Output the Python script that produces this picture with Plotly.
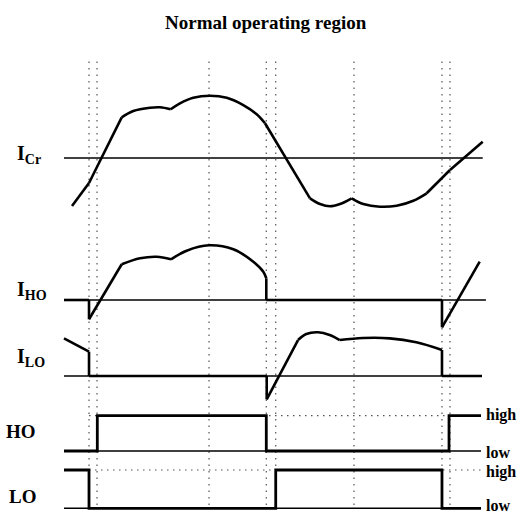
import plotly.graph_objects as go

# ---- time base (normalised, 0..100 across the drawn window) ----
T_MARKS = [5.97, 7.88, 34.61, 48.28, 50.53, 69.21, 90.21, 92.12]

# ---- resonant current I_Cr (normalised units, peak ~ 1) ----
I_CR_T = [1.91, 5.97, 13.77, 16.54, 20.53, 22.91, 25.47, 27.68, 30.86, 34.84,
          38.83, 42.79, 45.99, 47.97, 58.71, 61.10, 63.48, 65.87, 68.66, 71.43,
          75.42, 79.40, 83.37, 86.56, 92.12, 99.93]
I_CR_V = [-0.762, -0.397, 0.646, 0.746, 0.798, 0.805, 0.773, 0.868, 0.957, 0.989,
          0.957, 0.841, 0.694, 0.551, -0.640, -0.730, -0.767, -0.730, -0.640, -0.730,
          -0.773, -0.757, -0.678, -0.560, -0.190, 0.259]
I_CR_CORNERS = [1, 2, 6, 13, 14, 18, 23, 24]

# ---- high-side switch current I_HO ----
I_HO_T = [0, 5.97, 5.97, 13.77, 18.14, 22.12, 25.54, 29.28, 34.61, 40.41,
          45.18, 47.57, 48.28, 48.28, 90.21, 90.21, 99.21]
I_HO_V = [0, 0, -0.306, 0.567, 0.662, 0.687, 0.646, 0.783, 0.868, 0.805,
          0.608, 0.449, 0.344, 0, 0, -0.433, 0.608]
I_HO_CORNERS = [1, 2, 3, 6, 12, 13, 14, 15]

# ---- low-side switch current I_LO ----
I_LO_T = [0, 5.97, 5.97, 48.38, 48.38, 55.85, 57.83, 60.62, 63.41, 65.80,
          71.36, 77.73, 84.08, 90.21, 90.21, 99.76]
I_LO_V = [0.598, 0.386, 0, 0, -0.370, 0.571, 0.667, 0.694, 0.651, 0.571,
          0.603, 0.598, 0.535, 0.413, 0, 0]
I_LO_CORNERS = [1, 2, 3, 4, 5, 9, 13, 14]

# ---- gate signals (0 = low, 1 = high) ----
HO_T = [0, 7.95, 7.95, 48.28, 48.28, 91.89, 91.89, 99.52]
HO_V = [0, 0, 1, 1, 0, 0, 1, 1]
LO_T = [0, 5.97, 5.97, 50.53, 50.53, 90.21, 90.21, 99.52]
LO_V = [1, 1, 0, 0, 1, 1, 0, 0]

ROW_LABELS = ["I<sub>Cr</sub>", "I<sub>HO</sub>", "I<sub>LO</sub>", "HO", "LO"]
LEVEL_LABELS = ["high", "low"]
TITLE = "Normal operating region"

# ---- layout geometry ----
W, H = 526, 515
X0_PX, PX_PER_T = 64, 4.19
# (baseline pixel row, pixels per unit) for each row
ROWS = {
    "y": (158, 63.0),
    "y2": (300, 63.0),
    "y3": (376, 63.0),
    "y4": (451, 35.3),
    "y5": (508.3, 38.3),
}
BASE_END = {"y": 99.93, "y2": 100.7, "y3": 99.76, "y4": 99.52, "y5": 99.52}

INK = "black"
FONT = "Liberation Serif"


def py(px):
    return 1 - px / H


def px_(x):
    return x / W


fig = go.Figure()


def add_pieces(t, v, corners, axis, width=2.6, smooth=True):
    """Draw a waveform; smooth arcs between corner points, straight otherwise."""
    cut = [0] + corners + [len(t) - 1]
    for a, b in zip(cut[:-1], cut[1:]):
        seg_t, seg_v = t[a:b + 1], v[a:b + 1]
        curved = smooth and len(seg_t) > 2
        fig.add_trace(go.Scatter(
            x=seg_t, y=seg_v, mode="lines", yaxis=axis,
            line=dict(color=INK, width=width,
                      shape="spline" if curved else "linear",
                      smoothing=1.0 if curved else None),
            hoverinfo="skip", showlegend=False))


# zero / low reference lines
for axis, t_end in BASE_END.items():
    fig.add_trace(go.Scatter(x=[0, t_end], y=[0, 0], mode="lines", yaxis=axis,
                             line=dict(color=INK, width=1.6),
                             hoverinfo="skip", showlegend=False))

# dotted "high" reference levels
for axis in ("y4", "y5"):
    fig.add_trace(go.Scatter(x=[T_MARKS[0], BASE_END[axis]], y=[1, 1], mode="lines",
                             yaxis=axis,
                             line=dict(color="#555555", width=1.2, dash="1.5px,4.5px"),
                             hoverinfo="skip", showlegend=False))

add_pieces(I_CR_T, I_CR_V, I_CR_CORNERS, "y")
add_pieces(I_HO_T, I_HO_V, I_HO_CORNERS, "y2")
add_pieces(I_LO_T, I_LO_V, I_LO_CORNERS, "y3")
add_pieces(HO_T, HO_V, [], "y4", width=2.8, smooth=False)
add_pieces(LO_T, LO_V, [], "y5", width=2.8, smooth=False)

# vertical dotted time markers
for t in T_MARKS:
    fig.add_shape(type="line", xref="x", yref="paper", x0=t, x1=t,
                  y0=py(505), y1=py(57),
                  line=dict(color="#555555", width=1.2, dash="1.5px,5px"),
                  layer="below")

# row labels
label_pos = [(15, 154, "left", 20), (15, 290, "left", 20), (15, 357, "left", 20),
             (38, 431, "right", 19), (38, 496, "right", 19)]
for text, (x, y, anchor, size) in zip(ROW_LABELS, label_pos):
    fig.add_annotation(text=text, xref="paper", yref="paper", x=px_(x), y=py(y),
                       xanchor=anchor, yanchor="middle", showarrow=False,
                       font=dict(family=FONT, size=size, color=INK, weight="bold"))

# high / low level labels
for i, y in enumerate([415, 452, 472, 505]):
    fig.add_annotation(text=LEVEL_LABELS[i % 2], xref="paper", yref="paper",
                       x=px_(484), y=py(y), xanchor="left", yanchor="middle",
                       showarrow=False,
                       font=dict(family=FONT, size=16, color=INK, weight="bold"))

fig.add_annotation(text=TITLE, xref="paper", yref="paper", x=px_(266), y=py(22),
                   xanchor="center", yanchor="middle", showarrow=False,
                   font=dict(family=FONT, size=19, color=INK, weight="bold"))

t_lo = -X0_PX / PX_PER_T
t_hi = (W - X0_PX) / PX_PER_T
layout_axes = {}
for axis, (base, scale) in ROWS.items():
    name = "yaxis" if axis == "y" else "yaxis" + axis[1:]
    spec = dict(range=[(base - H) / scale, base / scale], domain=[0, 1],
                visible=False, fixedrange=True)
    if axis != "y":
        spec["overlaying"] = "y"
    layout_axes[name] = spec

fig.update_layout(
    width=W, height=H, autosize=False,
    margin=dict(l=0, r=0, t=0, b=0),
    paper_bgcolor="white", plot_bgcolor="white",
    xaxis=dict(range=[t_lo, t_hi], visible=False, fixedrange=True),
    showlegend=False,
    **layout_axes,
)

fig.write_html("out.html")
